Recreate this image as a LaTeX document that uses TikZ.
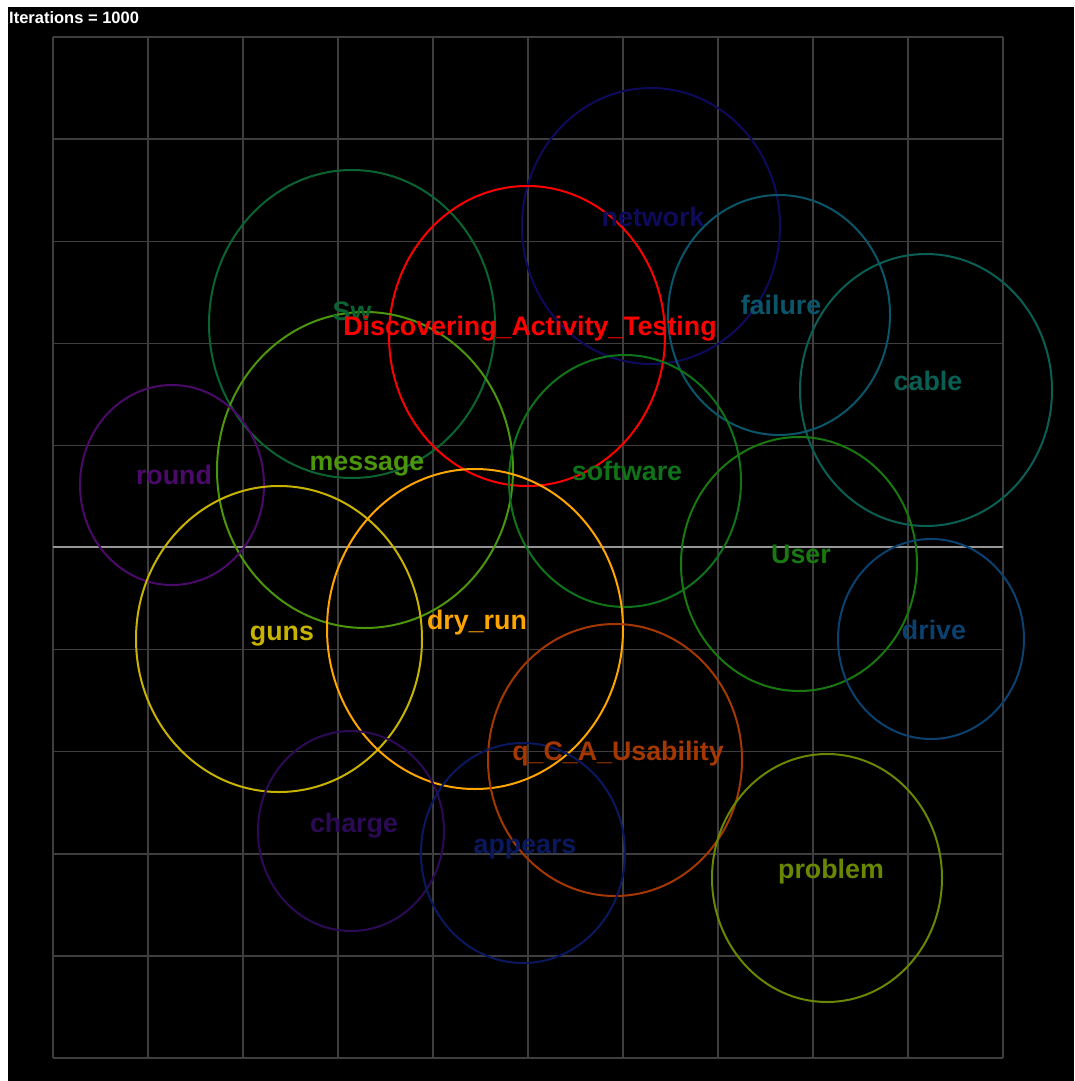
\documentclass[tikz,border=0pt]{standalone}
\usepackage{fontspec}
\setmainfont{Liberation Sans}
\definecolor{GridGray}{RGB}{62,62,62}
\definecolor{AxisGray}{RGB}{150,150,150}
\definecolor{DatRed}{RGB}{255,0,0}
\definecolor{NetNavy}{RGB}{14,10,92}
\definecolor{FailTeal}{RGB}{10,85,105}
\definecolor{CableTeal}{RGB}{10,95,85}
\definecolor{SwGreen}{RGB}{10,100,50}
\definecolor{MsgGreen}{RGB}{75,150,10}
\definecolor{RoundPurple}{RGB}{75,10,105}
\definecolor{SoftGreen}{RGB}{15,115,25}
\definecolor{UserGreen}{RGB}{25,120,15}
\definecolor{DriveBlue}{RGB}{10,65,110}
\definecolor{GunsYellow}{RGB}{200,180,0}
\definecolor{DryOrange}{RGB}{255,165,0}
\definecolor{UsabBrown}{RGB}{165,55,0}
\definecolor{ChargePurple}{RGB}{45,10,85}
\definecolor{AppNavy}{RGB}{10,25,95}
\definecolor{ProbOlive}{RGB}{105,135,0}

\begin{document}
\begin{tikzpicture}[
  x=1pt, y=-1pt,
  ring/.style={draw=#1, line width=2pt},
  lbl/.style={text=#1, anchor=base, inner sep=0pt,
              font=\bfseries\fontsize{26.8}{26.8}\selectfont},
  grid line/.style={draw=GridGray, line width=1.4pt}
]
  \useasboundingbox (0,0) rectangle (1074,1081);
  \fill[white] (0,0) rectangle (1074,1081);
  \fill[black] (8,7) rectangle (1074,1081);

  % grid
  \foreach \i in {0,...,10} {
    \draw[grid line] (53+95*\i,37) -- (53+95*\i,1058);
    \draw[grid line] (53,37+102.1*\i) -- (1003,37+102.1*\i);
  }
  \draw[draw=AxisGray, line width=1.5pt] (53,547) -- (1003,547);

  \node[text=white, anchor=north west, inner sep=0pt,
        font=\bfseries\fontsize{16.5}{16.5}\selectfont]
    (iter) at (9,11) {Iterations = 1000};

  % circles
  \draw[ring=NetNavy]      (651,226) ellipse [x radius=129, y radius=138];
  \draw[ring=FailTeal]     (779,315) ellipse [x radius=111, y radius=120];
  \draw[ring=CableTeal]    (926,390) ellipse [x radius=126, y radius=136];
  \draw[ring=SwGreen]      (352,324) ellipse [x radius=143, y radius=154];
  \draw[ring=DatRed]       (527,336) ellipse [x radius=138, y radius=150];
  \draw[ring=MsgGreen]     (365,470) ellipse [x radius=148, y radius=158];
  \draw[ring=RoundPurple]  (172,485) ellipse [x radius=92,  y radius=100];
  \draw[ring=SoftGreen]    (625,481) ellipse [x radius=116, y radius=126];
  \draw[ring=UserGreen]    (799,564) ellipse [x radius=118, y radius=127];
  \draw[ring=DriveBlue]    (931,639) ellipse [x radius=93,  y radius=100];
  \draw[ring=GunsYellow]   (279,639) ellipse [x radius=143, y radius=153];
  \draw[ring=DryOrange]    (475,629) ellipse [x radius=148, y radius=160];
  \draw[ring=UsabBrown]    (615,760) ellipse [x radius=127, y radius=136];
  \draw[ring=ChargePurple] (351,831) ellipse [x radius=93,  y radius=100];
  \draw[ring=AppNavy]      (523,853) ellipse [x radius=102, y radius=110];
  \draw[ring=ProbOlive]    (827,878) ellipse [x radius=115, y radius=124];

  % labels
  \node[lbl=NetNavy]      (network)  at (653,226) {network};
  \node[lbl=FailTeal]     (failure)  at (781,314) {failure};
  \node[lbl=CableTeal]    (cable)    at (928,390) {cable};
  \node[lbl=SwGreen]      (sw)       at (352,320) {Sw};
  \node[lbl=DatRed]       (dat)      at (530,335) {Discovering\_Activity\_Testing};
  \node[lbl=MsgGreen]     (message)  at (367,470) {message};
  \node[lbl=RoundPurple]  (round)    at (174,484) {round};
  \node[lbl=SoftGreen]    (software) at (627,480) {software};
  \node[lbl=UserGreen]    (user)     at (801,563) {User};
  \node[lbl=DriveBlue]    (drive)    at (934,639) {drive};
  \node[lbl=GunsYellow]   (guns)     at (282,640) {guns};
  \node[lbl=DryOrange]    (dryrun)   at (477,629) {dry\_run};
  \node[lbl=UsabBrown]    (usab)     at (618,760) {q\_C\_A\_Usability};
  \node[lbl=ChargePurple] (charge)   at (354,832) {charge};
  \node[lbl=AppNavy]      (appears)  at (525,853) {appears};
  \node[lbl=ProbOlive]    (problem)  at (831,878) {problem};
\end{tikzpicture}
\end{document}
